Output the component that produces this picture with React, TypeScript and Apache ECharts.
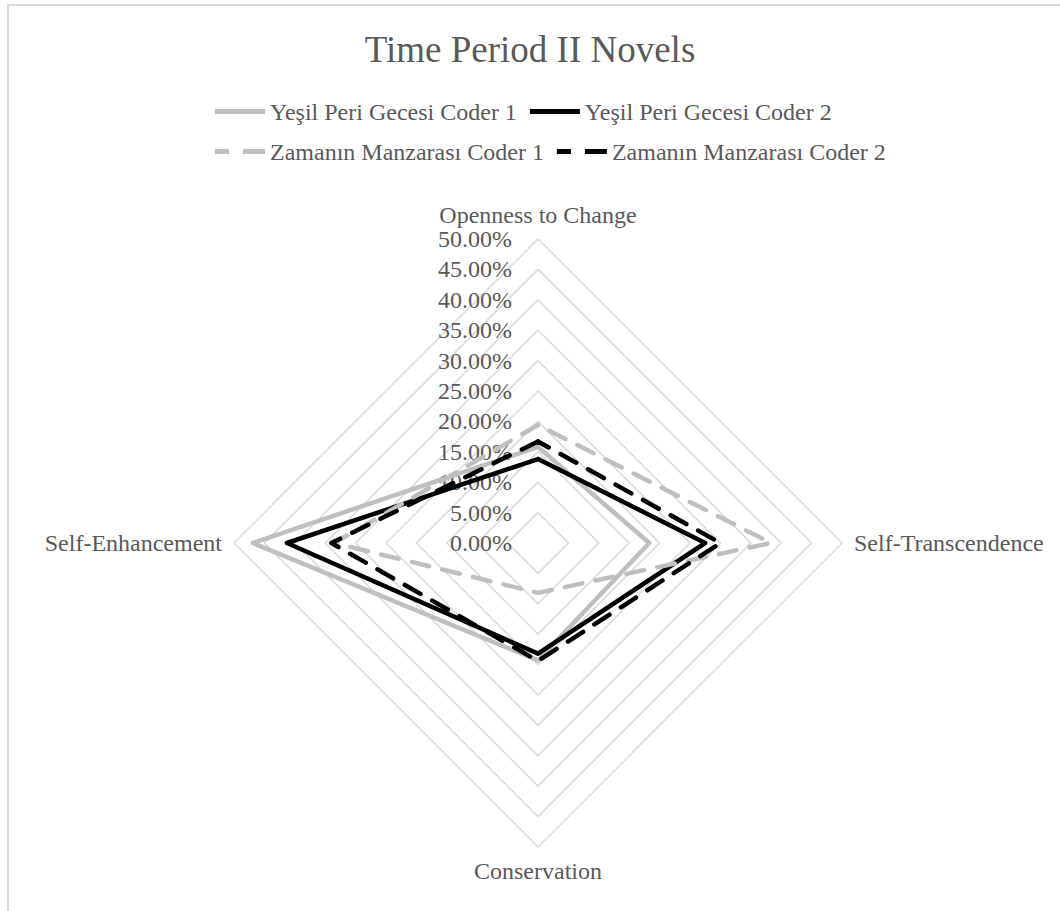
import React, { useEffect, useRef } from "react";
import * as echarts from "echarts";

// Indicators in ECharts order (counter-clockwise from the top)
const indicators = ["Openness to Change", "Self-Enhancement", "Conservation", "Self-Transcendence"];
const seriesNames = [
  "Yeşil Peri Gecesi Coder 1",
  "Yeşil Peri Gecesi Coder 2",
  "Zamanın Manzarası Coder 1",
  "Zamanın Manzarası Coder 2",
];
// values in percent, same order as indicators
const yesilCoder1 = [15.8, 46.9, 19.3, 18.3];
const yesilCoder2 = [13.8, 41.3, 18.2, 27.5];
const zamaninCoder1 = [19.4, 33.5, 8.2, 38.3];
const zamaninCoder2 = [16.7, 34.0, 19.4, 30.0];
const tickMin = 0;
const tickMax = 50;
const tickStep = 5;

const FONT = "'Liberation Serif', 'Times New Roman', serif";
const TXT = "#595959";
const GRAY = "#bfbfbf";
const BLACK = "#000000";

export default function App() {
  const ref = useRef<HTMLDivElement>(null);
  useEffect(() => {
    if (!ref.current) return;
    const chart = echarts.init(ref.current, undefined, { renderer: "svg" });
    const values = [yesilCoder1, yesilCoder2, zamaninCoder1, zamaninCoder2];
    const colors = [GRAY, BLACK, GRAY, BLACK];
    const dashed = [false, false, true, true];
    const solidIcon = "path://M0,0H50V5H0Z";
    const dashIcon = "path://M0,0H14V5H0Z M28,0H50V5H28Z";
    chart.setOption({
      animation: false,
      backgroundColor: "#ffffff",
      title: {
        text: "Time Period II Novels",
        left: "center",
        top: 26,
        textStyle: { fontFamily: FONT, fontSize: 37, fontWeight: "normal", color: TXT },
      },
      legend: {
        left: 210,
        top: 93,
        width: 720,
        itemWidth: 50,
        itemHeight: 5,
        itemGap: 13,
        textStyle: { fontFamily: FONT, fontSize: 24, color: TXT, lineHeight: 27 },
        data: seriesNames.map((n, i) => ({ name: n, icon: dashed[i] ? dashIcon : solidIcon })),
      },
      graphic: [
        {
          type: "rect",
          shape: { x: 8, y: 5, width: 1200, height: 1200 },
          style: { fill: "none", stroke: "#d9d9d9", lineWidth: 2 },
          silent: true,
        },
      ],
      radar: {
        center: [538, 543],
        radius: 304,
        shape: "polygon",
        splitNumber: (tickMax - tickMin) / tickStep,
        indicator: indicators.map((n) => ({ name: n, min: tickMin, max: tickMax })),
        axisName: { color: TXT, fontFamily: FONT, fontSize: 24 },
        nameGap: 12,
        axisLine: { show: false },
        axisTick: { show: false },
        splitArea: { show: false },
        splitLine: { lineStyle: { color: "#d9d9d9", width: 1.5 } },
      },
      grid: { left: 538, top: 239, width: 1, height: 304 },
      xAxis: { type: "value", show: false },
      yAxis: {
        type: "value",
        min: tickMin,
        max: tickMax,
        interval: tickStep,
        axisLine: { show: false },
        axisTick: { show: false },
        splitLine: { show: false },
        axisLabel: {
          margin: 26,
          color: TXT,
          fontFamily: FONT,
          fontSize: 24,
          formatter: (v: number) => v.toFixed(2) + "%",
        },
      },
      series: [
        {
          type: "radar",
          z: 5,
          symbol: "none",
          data: values.map((vals, i) => ({
            name: seriesNames[i],
            value: vals,
            itemStyle: { color: colors[i] },
            lineStyle: {
              color: colors[i],
              width: 4.5,
              type: dashed[i] ? [18, 13.5] : "solid",
              cap: "round",
              join: "round",
            },
          })),
        },
      ],
    });
    return () => chart.dispose();
  }, []);
  return (
    <div
      ref={ref}
      style={{ position: "fixed", left: 0, top: 0, width: 1060, height: 911 }}
    />
  );
}
